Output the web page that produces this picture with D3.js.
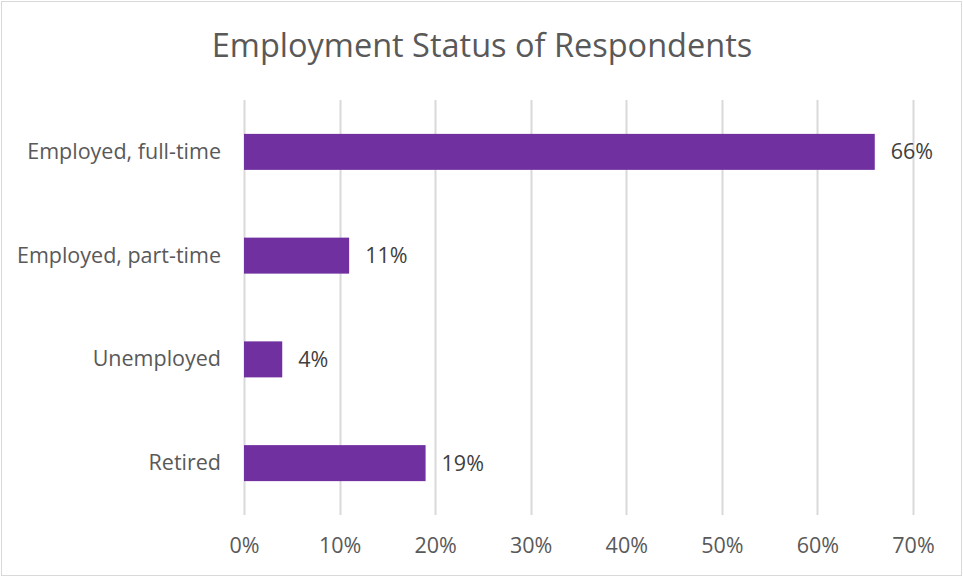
<!DOCTYPE html>
<html><head><meta charset="utf-8">
<script src="https://cdn.jsdelivr.net/npm/d3@7"></script>
<style>body{margin:0;background:#fff;} svg{display:block;}</style>
</head><body>
<script>
const categories = ["Employed, full-time", "Employed, part-time", "Unemployed", "Retired"];
const values = [66, 11, 4, 19];
const tickValues = [0, 10, 20, 30, 40, 50, 60, 70];
const title = "Employment Status of Respondents";

const W = 963, H = 577;
const font = "'Open Sans', sans-serif";
const svg = d3.select("body").append("svg").attr("width", W).attr("height", H);
svg.append("rect").attr("x", 1.5).attr("y", 1.5).attr("width", W - 3).attr("height", H - 3)
  .attr("fill", "#fff").attr("stroke", "#d9d9d9").attr("stroke-width", 1);

const x = d3.scaleLinear().domain([0, 70]).range([244, 913]);
const y = d3.scaleBand().domain(categories).range([100, 515]).paddingInner(0.653).paddingOuter(0.3265);

svg.append("text").attr("x", 482).attr("y", 57).attr("text-anchor", "middle")
  .attr("font-family", font).attr("font-size", 32.5).attr("fill", "#595959").text(title);

// gridlines
svg.append("g").selectAll("line").data(tickValues).join("line")
  .attr("x1", d => Math.round(x(d)) + 0.5).attr("x2", d => Math.round(x(d)) + 0.5)
  .attr("y1", 100).attr("y2", 515).attr("stroke", "#d9d9d9").attr("stroke-width", 2);

// x axis labels
const xAxis = d3.axisBottom(x).tickValues(tickValues).tickFormat(d => d + "%").tickSize(0).tickPadding(0);
const gx = svg.append("g").attr("transform", "translate(0,538)").call(xAxis);
gx.select(".domain").remove();
gx.selectAll("text").attr("font-family", font).attr("font-size", 21.5).attr("fill", "#595959").attr("dy", "0.71em");

// y axis labels
const yAxis = d3.axisLeft(y).tickSize(0).tickPadding(0);
const gy = svg.append("g").attr("transform", "translate(221,0)").call(yAxis);
gy.select(".domain").remove();
gy.selectAll("text").attr("font-family", font).attr("font-size", 21.5).attr("fill", "#595959");

// bars
svg.append("g").selectAll("rect").data(values).join("rect")
  .attr("x", x(0)).attr("y", (d, i) => y(categories[i]))
  .attr("width", d => x(d) - x(0)).attr("height", y.bandwidth())
  .attr("fill", "#7030A0");

// data labels
svg.append("g").selectAll("text").data(values).join("text")
  .attr("x", d => x(d) + 16).attr("y", (d, i) => y(categories[i]) + y.bandwidth() / 2)
  .attr("dy", "0.35em").attr("font-family", font).attr("font-size", 21.5).attr("fill", "#404040")
  .text(d => d + "%");
</script>
</body></html>
